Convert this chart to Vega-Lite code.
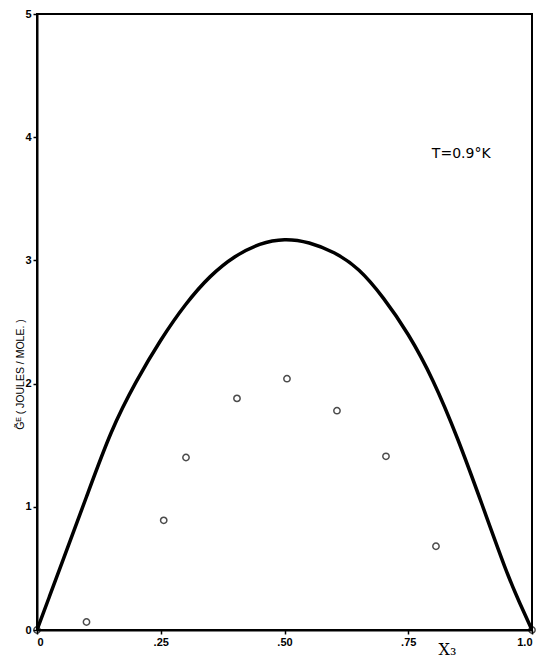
{
  "$schema": "https://vega.github.io/schema/vega-lite/v6.json",
  "width": 495,
  "height": 616,
  "autosize": {"type": "none"},
  "padding": {"left": 37, "top": 14, "right": 5, "bottom": 32},
  "background": "white",
  "config": {
    "view": {"stroke": "black", "strokeWidth": 2},
    "axis": {"grid": false, "domainColor": "black", "domainWidth": 2, "tickColor": "black", "tickWidth": 1.5, "tickSize": 4, "labelColor": "black", "labelFont": "Liberation Sans", "labelFontWeight": "bold", "labelFontSize": 11}
  },
  "datasets": {
    "curve": [
      {"x": 0, "g": 0},
      {"x": 0.025, "g": 0.27},
      {"x": 0.05, "g": 0.54},
      {"x": 0.1, "g": 1.08},
      {"x": 0.15, "g": 1.63},
      {"x": 0.2, "g": 2.02},
      {"x": 0.25, "g": 2.36},
      {"x": 0.3, "g": 2.65},
      {"x": 0.35, "g": 2.88},
      {"x": 0.4, "g": 3.04},
      {"x": 0.45, "g": 3.14},
      {"x": 0.5, "g": 3.18},
      {"x": 0.55, "g": 3.15},
      {"x": 0.6, "g": 3.07},
      {"x": 0.65, "g": 2.94},
      {"x": 0.7, "g": 2.70},
      {"x": 0.75, "g": 2.41},
      {"x": 0.8, "g": 2.04},
      {"x": 0.85, "g": 1.56},
      {"x": 0.9, "g": 1.01},
      {"x": 0.95, "g": 0.45},
      {"x": 0.975, "g": 0.22},
      {"x": 1.0, "g": 0}
    ],
    "points": [
      {"x": 0, "g": 0},
      {"x": 0.1, "g": 0.065},
      {"x": 0.256, "g": 0.89},
      {"x": 0.301, "g": 1.4},
      {"x": 0.404, "g": 1.88},
      {"x": 0.505, "g": 2.04},
      {"x": 0.606, "g": 1.78},
      {"x": 0.705, "g": 1.41},
      {"x": 0.806, "g": 0.68},
      {"x": 1.0, "g": 0}
    ],
    "note": [{"x": 0.857, "g": 3.86, "label": "T=0.9°K"}]
  },
  "layer": [
    {
      "data": {"name": "curve"},
      "mark": {"type": "line", "color": "black", "strokeWidth": 3.5, "interpolate": "basis", "clip": true},
      "encoding": {
        "x": {"field": "x", "type": "quantitative", "scale": {"domain": [0, 1], "nice": false},
          "axis": {"values": [0, 0.25, 0.5, 0.75, 1], "labelExpr": "datum.value == 0 ? '0' : datum.value == 1 ? '1.0' : datum.value == 0.25 ? '.25' : datum.value == 0.5 ? '.50' : '.75'",
            "title": "X₃", "titleFont": "DejaVu Serif", "titleFontSize": 16, "titleFontWeight": "normal", "titleX": 410, "titleY": 24, "titleAlign": "center", "titleBaseline": "alphabetic", "labelPadding": 2}},
        "y": {"field": "g", "type": "quantitative", "scale": {"domain": [0, 5], "nice": false},
          "axis": {"values": [0, 1, 2, 3, 4, 5], "format": "d", "title": "G̃ᴱ   (  JOULES  /  MOLE. )", "titleFont": "Liberation Sans", "titleFontSize": 10.5, "titleFontWeight": "normal", "titleX": -17, "titleY": 360, "titleAngle": -90, "titleAlign": "center", "titleBaseline": "middle", "labelPadding": 2}}
      }
    },
    {
      "data": {"name": "points"},
      "mark": {"type": "point", "shape": "circle", "filled": false, "stroke": "black", "strokeWidth": 1.5, "size": 40},
      "encoding": {
        "x": {"field": "x", "type": "quantitative"},
        "y": {"field": "g", "type": "quantitative"}
      }
    },
    {
      "data": {"name": "note"},
      "mark": {"type": "text", "font": "DejaVu Sans", "fontSize": 14, "color": "black", "align": "center", "baseline": "middle"},
      "encoding": {
        "x": {"field": "x", "type": "quantitative"},
        "y": {"field": "g", "type": "quantitative"},
        "text": {"field": "label"}
      }
    }
  ]
}
